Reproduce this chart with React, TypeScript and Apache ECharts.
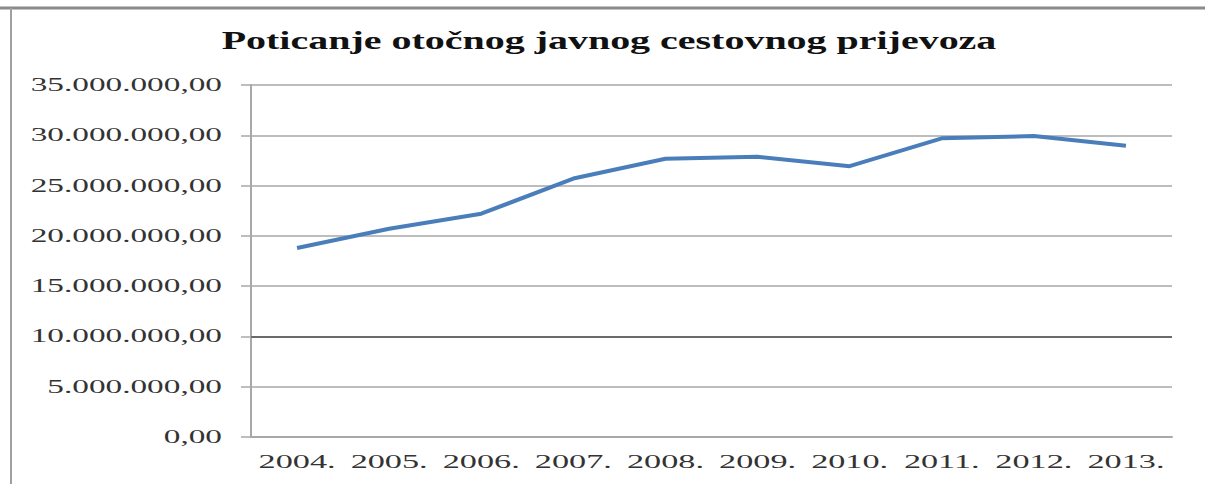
import React, { useEffect, useRef } from "react";
import * as echarts from "echarts";

const titleText = "Poticanje otočnog javnog cestovnog prijevoza";
const years = ["2004.", "2005.", "2006.", "2007.", "2008.", "2009.", "2010.", "2011.", "2012.", "2013."];
const amounts = [18800000, 20700000, 22200000, 25700000, 27660000, 27860000, 26930000, 29700000, 29930000, 28960000];
const yTicks = [0, 5000000, 10000000, 15000000, 20000000, 25000000, 30000000, 35000000];

function fmt(v: number): string {
  const s = Math.round(v).toString().replace(/\B(?=(\d{3})+(?!\d))/g, ".");
  return s + ",00";
}

function measure(text: string, font: string): number {
  const c = document.createElement("canvas");
  const ctx = c.getContext("2d");
  if (!ctx) return text.length * 10;
  ctx.font = font;
  return ctx.measureText(text).width;
}

export default function App() {
  const ref = useRef<HTMLDivElement>(null);
  useEffect(() => {
    if (!ref.current) return;
    const chart = echarts.init(ref.current, null, { renderer: "svg" });
    chart.setOption({
      animation: false,
      backgroundColor: "#ffffff",
      grid: { left: 251, right: 33, top: 85, bottom: 47 },
      xAxis: {
        type: "category",
        data: years,
        boundaryGap: true,
        axisLine: { show: true, lineStyle: { color: "#a8a8a8", width: 2 } },
        axisTick: { show: false },
        axisLabel: { show: false },
      },
      yAxis: {
        type: "value",
        min: 0,
        max: 35000000,
        interval: 5000000,
        axisLine: { show: true, lineStyle: { color: "#a8a8a8", width: 2 } },
        axisTick: { show: true, length: 10, lineStyle: { color: "#a8a8a8", width: 1.5 } },
        axisLabel: { show: false },
        splitLine: { show: true, lineStyle: { color: "#bdbdbd", width: 2 } },
      },
      series: [
        {
          type: "line",
          data: amounts,
          symbol: "none",
          lineStyle: { color: "#4a7ebb", width: 4 },
          markLine: {
            silent: true,
            symbol: "none",
            label: { show: false },
            lineStyle: { color: "#6a6a6a", width: 2, type: "solid" },
            data: [{ yAxis: 10000000 }],
          },
        },
      ],
    });

    const graphics: any[] = [];
    const yFont = '18px "Liberation Serif"';
    yTicks.forEach((v) => {
      const py = chart.convertToPixel({ yAxisIndex: 0 }, v) as number;
      graphics.push({
        type: "text",
        x: 222,
        y: py,
        scaleX: 1.85,
        silent: true,
        style: {
          text: fmt(v),
          font: yFont,
          fill: "#333333",
          align: "right",
          verticalAlign: "middle",
          textAlign: "right",
          textVerticalAlign: "middle",
        },
      });
    });
    const xFont = '18.5px "Liberation Serif"';
    years.forEach((yr, i) => {
      const px = chart.convertToPixel({ xAxisIndex: 0 }, i) as number;
      graphics.push({
        type: "text",
        x: px,
        y: 462,
        scaleX: 1.85,
        silent: true,
        style: {
          text: yr,
          font: xFont,
          fill: "#333333",
          align: "center",
          verticalAlign: "middle",
          textAlign: "center",
          textVerticalAlign: "middle",
        },
      });
    });
    const tFont = 'bold 25px "Liberation Serif"';
    const tw = measure(titleText, tFont);
    graphics.push({
      type: "text",
      x: 609,
      y: 40,
      scaleX: 775 / tw,
      silent: true,
      style: {
        text: titleText,
        font: tFont,
        fill: "#111111",
        align: "center",
        verticalAlign: "middle",
        textAlign: "center",
        textVerticalAlign: "middle",
      },
    });
    graphics.push({
      type: "line",
      silent: true,
      shape: { x1: 0, y1: 8, x2: 1205, y2: 8 },
      style: { stroke: "#8a8a8a", lineWidth: 3 },
    });
    graphics.push({
      type: "line",
      silent: true,
      shape: { x1: 11, y1: 8, x2: 11, y2: 484 },
      style: { stroke: "#a0a0a0", lineWidth: 2 },
    });
    chart.setOption({ graphic: graphics });

    return () => chart.dispose();
  }, []);
  return (
    <div
      ref={ref}
      style={{ position: "fixed", left: 0, top: 0, width: 1205, height: 484 }}
    />
  );
}
